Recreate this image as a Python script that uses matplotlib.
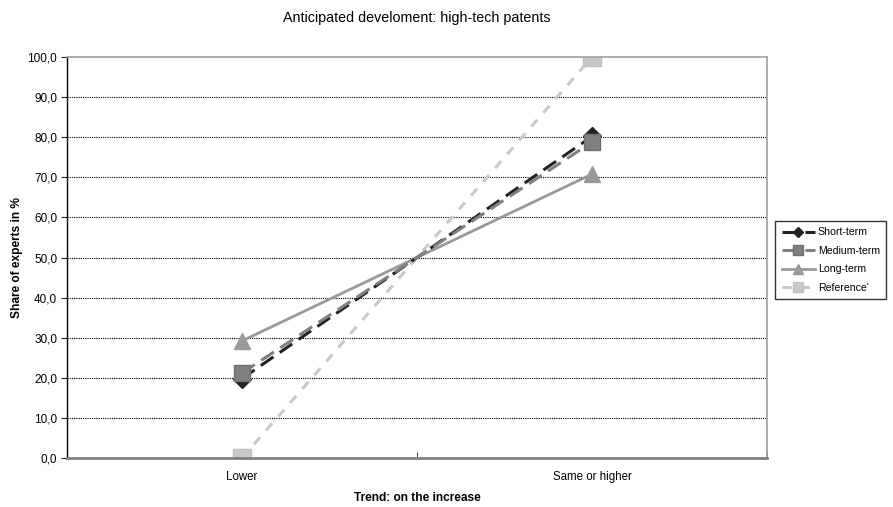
"""
Anticipated development of high-tech patents: share of experts per trend
"""

import numpy as np
import matplotlib
matplotlib.use("Agg")
import matplotlib.pyplot as plt

plt.rcParams['font.family'] = ['Liberation Sans', 'DejaVu Sans']

# categories on the x axis
categories = ['Lower', 'Same or higher']

# share of experts in % per horizon
short_term = [19.8, 80.2]
medium_term = [21.2, 78.8]
long_term = [29.2, 70.8]
reference = [0.0, 100.0]

y_ticks = np.arange(0, 101, 10)

##### Plot #####
fig = plt.figure(figsize=(8.93, 5.07), dpi=100)
ax = fig.add_axes([0.075, 0.0966, 0.784, 0.791])

x = np.arange(len(categories))

ax.plot(x, reference, color='#c8c8c8', ls=(0, (3, 3)), lw=2.2,
        marker='s', ms=13, mec='#c0c0c0', label="Reference'", zorder=2)
ax.plot(x, long_term, color='#999999', ls='-', lw=2.0,
        marker='^', ms=12, label='Long-term', zorder=3)
ax.plot(x, short_term, color='#222222', ls=(0, (5, 2.5)), lw=2.2,
        marker='D', ms=9, label='Short-term', zorder=4)
ax.plot(x, medium_term, color='#808080', ls=(0, (5, 2.5)), lw=2.2,
        marker='s', ms=11, mec='#707070', label='Medium-term', zorder=5)

ax.set_xlim(-0.5, 1.5)
ax.set_ylim(0, 100)
ax.set_yticks(y_ticks)
ax.set_yticklabels([f'{v:.1f}'.replace('.', ',') for v in y_ticks], fontsize=8.5)
ax.set_xticks(x)
ax.set_xticklabels(categories, fontsize=8.3)
ax.set_xticks([-0.5, 0.5, 1.5], minor=True)
ax.tick_params(axis='x', which='major', length=0, pad=9)
ax.tick_params(axis='x', which='minor', length=4, direction='in', color='#222222')
ax.tick_params(axis='y', length=4, color='#222222', pad=3)

for v in y_ticks[1:-1]:
    ax.axhline(v, color='black', lw=0.8, ls=(0, (1, 1)), zorder=1)

ax.spines['left'].set_color('black')
ax.spines['left'].set_linewidth(1.0)
ax.spines['bottom'].set_color('#808080')
ax.spines['bottom'].set_linewidth(2.0)
ax.spines['top'].set_color('#a0a0a0')
ax.spines['top'].set_linewidth(1.2)
ax.spines['right'].set_color('#a0a0a0')
ax.spines['right'].set_linewidth(1.2)

ax.set_title('Anticipated develoment: high-tech patents', fontsize=10.3, pad=25)
ax.set_xlabel('Trend: on the increase', fontsize=8.6, fontweight='bold', labelpad=7)
ax.set_ylabel('Share of experts in %', fontsize=8.6, fontweight='bold', labelpad=3)

handles, labels = ax.get_legend_handles_labels()
order = [2, 3, 1, 0]
leg = fig.legend([handles[i] for i in order], [labels[i] for i in order],
                 loc='center left', bbox_to_anchor=(0.866, 0.487),
                 fontsize=7.6, frameon=True, fancybox=False, edgecolor='black',
                 markerscale=0.6, handlelength=3.1, handletextpad=0.3,
                 borderpad=0.6, labelspacing=0.8, borderaxespad=0.2)
leg.get_frame().set_linewidth(1.0)

fig.savefig('out.png', dpi=100)
